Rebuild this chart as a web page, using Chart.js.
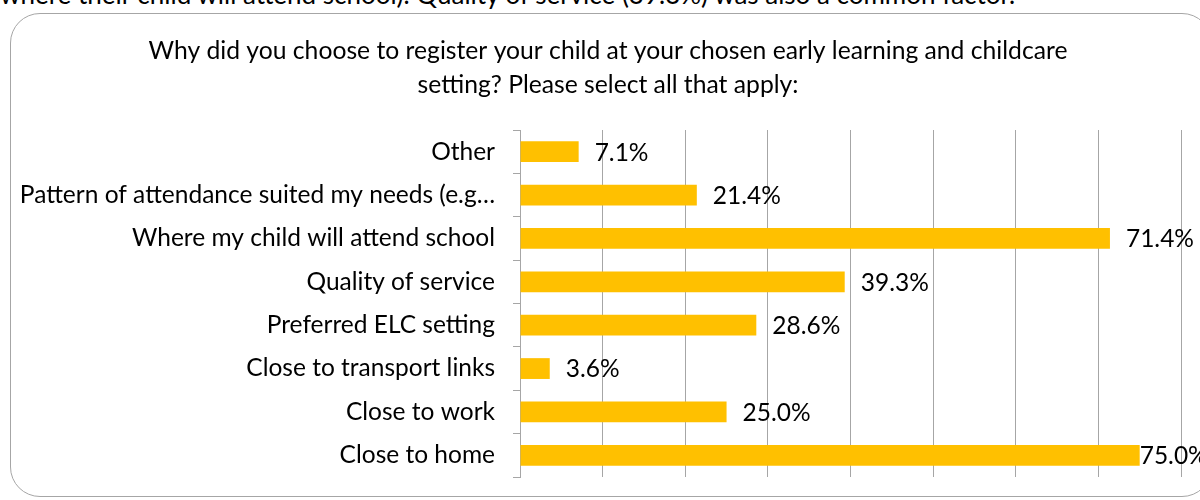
<!DOCTYPE html>
<html>
<head>
<meta charset="utf-8">
<script src="https://cdn.jsdelivr.net/npm/chart.js@4"></script>
<style>
  body { margin: 0; background: #fff; width: 1200px; height: 500px; overflow: hidden; position: relative; font-family: Lato, sans-serif; }
  #lead { position: absolute; left: 0; top: -22px; font-size: 26px; color: #000; white-space: nowrap; }
  #frame { position: absolute; left: 10px; top: 13px; width: 1200px; height: 482px; border: 1.5px solid #a6a6a6; border-radius: 30px; }
  #wrap { position: absolute; left: 0; top: 0; width: 1200px; height: 500px; }
</style>
</head>
<body>
<div id="lead">where their child will attend school). Quality of service (39.3%) was also a common factor.</div>
<div id="frame"></div>
<div id="wrap"><canvas id="chart" width="1200" height="500"></canvas></div>
<script>
const reasons = [
  'Other',
  'Pattern of attendance suited my needs (e.g\u2026',
  'Where my child will attend school',
  'Quality of service',
  'Preferred ELC setting',
  'Close to transport links',
  'Close to work',
  'Close to home'
];
const percentages = [7.1, 21.4, 71.4, 39.3, 28.6, 3.6, 25.0, 75.0];
const titleLines = [
  'Why did you choose to register your child at your chosen early learning and childcare',
  'setting? Please select all that apply:'
];

// title centred on the framed box rather than on the chart's layout box
const boxTitle = {
  id: 'boxTitle',
  afterDraw(chart) {
    const ctx = chart.ctx;
    ctx.save();
    ctx.font = '24.7px Lato';
    ctx.fillStyle = '#000';
    ctx.textAlign = 'center';
    ctx.textBaseline = 'middle';
    titleLines.forEach((line, i) => ctx.fillText(line, 608, 51 + i * 34));
    ctx.restore();
  }
};

// value labels just past the end of each bar, pulled back in if they would run off
const barLabels = {
  id: 'barLabels',
  afterDatasetsDraw(chart) {
    const ctx = chart.ctx;
    const meta = chart.getDatasetMeta(0);
    ctx.save();
    ctx.font = '24.5px Lato';
    ctx.fillStyle = '#000';
    ctx.textBaseline = 'middle';
    ctx.textAlign = 'left';
    meta.data.forEach((bar, i) => {
      const txt = percentages[i].toFixed(1) + '%';
      const w = ctx.measureText(txt).width;
      let x = bar.x + 16;
      if (x + w > chart.width) x = Math.max(bar.x, chart.width - w);
      ctx.fillText(txt, x, bar.y + 1);
    });
    ctx.restore();
  }
};

new Chart(document.getElementById('chart'), {
  type: 'bar',
  data: {
    labels: reasons,
    datasets: [{
      data: percentages,
      backgroundColor: '#FFC000',
      barPercentage: 0.48,
      categoryPercentage: 1
    }]
  },
  options: {
    indexAxis: 'y',
    responsive: false,
    animation: false,
    layout: { padding: { left: 12, right: 19, top: 130, bottom: 23 } },
    plugins: {
      legend: { display: false },
      tooltip: { enabled: false },
      title: { display: false }
    },
    scales: {
      x: {
        min: 0,
        max: 80,
        afterFit(scale) { scale.height = 0; },
        ticks: { display: false, stepSize: 10 },
        grid: { color: '#a6a6a6', lineWidth: 1, drawTicks: false },
        border: { display: false }
      },
      y: {
        afterFit(scale) {
          scale.width = 508;
          scale.paddingTop = 0;
          scale.paddingBottom = 0;
        },
        ticks: { color: '#000', font: { family: 'Lato', size: 24.5 }, padding: 18 },
        grid: { offset: true, drawOnChartArea: false, drawTicks: true, tickLength: 7, color: '#a6a6a6' },
        border: { display: true, color: '#a6a6a6' }
      }
    }
  },
  plugins: [barLabels, boxTitle]
});
</script>
</body>
</html>
